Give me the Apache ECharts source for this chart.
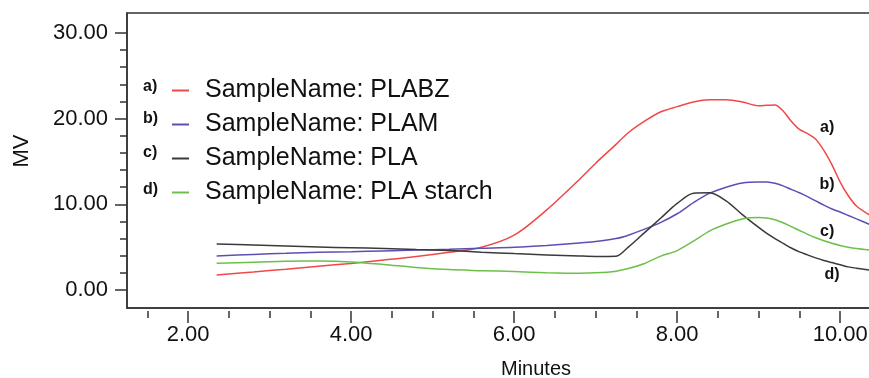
<!DOCTYPE html>
<html>
<head>
<meta charset="utf-8">
<script src="https://cdn.jsdelivr.net/npm/echarts@6/dist/echarts.min.js"></script>
<style>
  html, body { margin: 0; padding: 0; background: #fff; }
  #chart { width: 869px; height: 378px; }
</style>
</head>
<body>
<div id="chart"></div>
<script>
// retention time (minutes), shared by all four traces
const minutes = [2.35, 2.8, 3.2, 3.6, 4.0, 4.4, 4.8, 5.2, 5.6, 6.0, 6.4, 6.8, 7.0, 7.25, 7.4, 7.6, 7.8, 8.0,
  8.2, 8.4, 8.6, 8.8, 9.0, 9.1, 9.2, 9.3, 9.4, 9.5, 9.6, 9.7, 9.8, 9.9, 10.0, 10.1, 10.2, 10.36]

const plabz = [1.75, 2.1, 2.43, 2.78, 3.1, 3.5, 3.9, 4.4, 5.0, 6.4, 9.35, 12.9, 14.8, 17.0, 18.35, 19.7, 20.8, 21.4,
  21.95, 22.2, 22.2, 21.95, 21.5, 21.55, 21.6, 20.9, 19.7, 18.75, 18.25, 17.6, 16.3, 14.6, 12.6, 11.0, 9.8, 8.75]
const plam = [3.97, 4.15, 4.28, 4.4, 4.47, 4.56, 4.66, 4.75, 4.87, 4.98, 5.2, 5.5, 5.65, 6.0, 6.4, 7.1, 7.9, 8.9,
  10.2, 11.3, 12.0, 12.5, 12.62, 12.6, 12.45, 12.15, 11.75, 11.35, 10.9, 10.4, 9.9, 9.45, 9.1, 8.7, 8.3, 7.67]
const pla = [5.37, 5.25, 5.13, 5.02, 4.93, 4.85, 4.72, 4.6, 4.42, 4.25, 4.1, 3.97, 3.92, 3.95, 5.0, 6.7, 8.4, 10.1,
  11.3, 11.35, 10.4, 8.8, 7.3, 6.6, 6.0, 5.45, 4.9, 4.45, 4.1, 3.75, 3.45, 3.2, 2.95, 2.7, 2.55, 2.33]
const plaStarch = [3.11, 3.25, 3.35, 3.38, 3.28, 2.98, 2.62, 2.38, 2.26, 2.15, 2.02, 1.95, 2.0, 2.2, 2.5, 3.1, 3.95, 4.6,
  5.7, 6.9, 7.7, 8.3, 8.45, 8.4, 8.2, 7.85, 7.4, 6.95, 6.5, 6.1, 5.75, 5.45, 5.2, 5.0, 4.85, 4.67]

const seriesNames = ['SampleName: PLABZ', 'SampleName: PLAM', 'SampleName: PLA', 'SampleName: PLA starch']
const seriesTags = ['a)', 'b)', 'c)', 'd)']
const seriesValues = [plabz, plam, pla, plaStarch]
const colors = ['#f04848', '#5a50b4', '#3a3a3a', '#6cc04a']
// where the a) b) c) d) tags sit next to the curves [minutes, mV]
const tagCoords = [[9.84, 18.95], [9.84, 12.34], [9.84, 6.8], [9.9, 1.75]]

const xTicks = [1.5, 2, 2.5, 3, 3.5, 4, 4.5, 5, 5.5, 6, 6.5, 7, 7.5, 8, 8.5, 9, 9.5, 10]
const xLabels = [2, 4, 6, 8, 10]
const yTicks = [0, 2, 4, 6, 8, 10, 12, 14, 16, 18, 20, 22, 24, 26, 28, 30]
const yLabels = [0, 10, 20, 30]

const FONT = 'Liberation Sans, Arial, sans-serif'
const AXIS = '#333'

const chart = echarts.init(document.getElementById('chart'), null, { renderer: 'canvas' })

const xBase = { type: 'value', min: 1.25, max: 10.366, position: 'bottom', splitLine: { show: false } }
const yBase = { type: 'value', min: -2.1, max: 32.33, position: 'left', splitLine: { show: false } }

const option = {
  animation: false,
  backgroundColor: '#fff',
  grid: {
    left: 127, right: -1, top: 13, bottom: 70,
    show: true, borderColor: AXIS, borderWidth: 1.5,
    outerBoundsMode: 'none'
  },
  legend: {
    orient: 'vertical',
    left: 172,
    top: 78,
    padding: 0,
    itemGap: 9,
    itemWidth: 17,
    itemHeight: 2,
    icon: 'rect',
    selectedMode: false,
    data: seriesNames,
    textStyle: { fontFamily: FONT, fontSize: 25, lineHeight: 25, color: '#111', padding: [0, 0, 0, 11] }
  },
  xAxis: [
    {
      ...xBase,
      axisLine: { show: true, onZero: false, lineStyle: { color: AXIS, width: 1.5 } },
      axisTick: { show: false },
      axisLabel: { show: false }
    },
    {
      ...xBase,
      offset: 3,
      axisLine: { show: false, onZero: false },
      axisTick: { show: true, length: 7, customValues: xTicks, lineStyle: { color: AXIS, width: 1.5 } },
      axisLabel: { show: false }
    },
    {
      ...xBase,
      offset: 3,
      axisLine: { show: false, onZero: false },
      axisTick: { show: true, length: 12, customValues: xLabels, lineStyle: { color: AXIS, width: 1.5 } },
      axisLabel: {
        show: true,
        customValues: xLabels,
        margin: 13,
        fontFamily: FONT,
        fontSize: 22,
        color: '#111',
        formatter: (v) => v.toFixed(2)
      }
    }
  ],
  yAxis: [
    {
      ...yBase,
      axisLine: { show: true, onZero: false, lineStyle: { color: AXIS, width: 1.5 } },
      axisTick: { show: true, length: 12, customValues: yLabels, lineStyle: { color: AXIS, width: 1.5 } },
      axisLabel: {
        show: true,
        customValues: yLabels,
        margin: 19,
        fontFamily: FONT,
        fontSize: 22,
        color: '#111',
        formatter: (v) => v.toFixed(2)
      }
    },
    {
      ...yBase,
      axisLine: { show: false, onZero: false },
      axisTick: { show: true, length: 7, customValues: yTicks, lineStyle: { color: AXIS, width: 1.5 } },
      axisLabel: { show: false }
    }
  ],
  graphic: [
    {
      type: 'text', x: 22, y: 151, rotation: Math.PI / 2,
      style: { text: 'MV', font: '22px ' + FONT, fill: '#111', align: 'center', verticalAlign: 'middle' }
    },
    {
      type: 'text', x: 536, y: 369,
      style: { text: 'Minutes', font: '20px ' + FONT, fill: '#111', align: 'center', verticalAlign: 'middle' }
    },
    ...seriesTags.map((t, i) => ({
      type: 'text', x: 143, y: [87, 119, 153, 190][i],
      style: { text: t, font: 'bold 16px ' + FONT, fill: '#111', align: 'left', verticalAlign: 'middle' }
    }))
  ],
  series: seriesNames.map((name, i) => ({
    name,
    type: 'line',
    xAxisIndex: 0,
    yAxisIndex: 0,
    smooth: 0.3,
    showSymbol: false,
    color: colors[i],
    lineStyle: { color: colors[i], width: 1.5 },
    data: minutes.map((m, j) => [m, seriesValues[i][j]]),
    markPoint: {
      silent: true,
      symbol: 'circle',
      symbolSize: 0,
      label: {
        show: true,
        position: 'inside',
        formatter: seriesTags[i],
        fontFamily: FONT,
        fontSize: 16,
        fontWeight: 'bold',
        color: '#111'
      },
      data: [{ coord: tagCoords[i] }]
    }
  }))
}

chart.setOption(option)

window.addEventListener('resize', () => chart.resize())
</script>
</body>
</html>
